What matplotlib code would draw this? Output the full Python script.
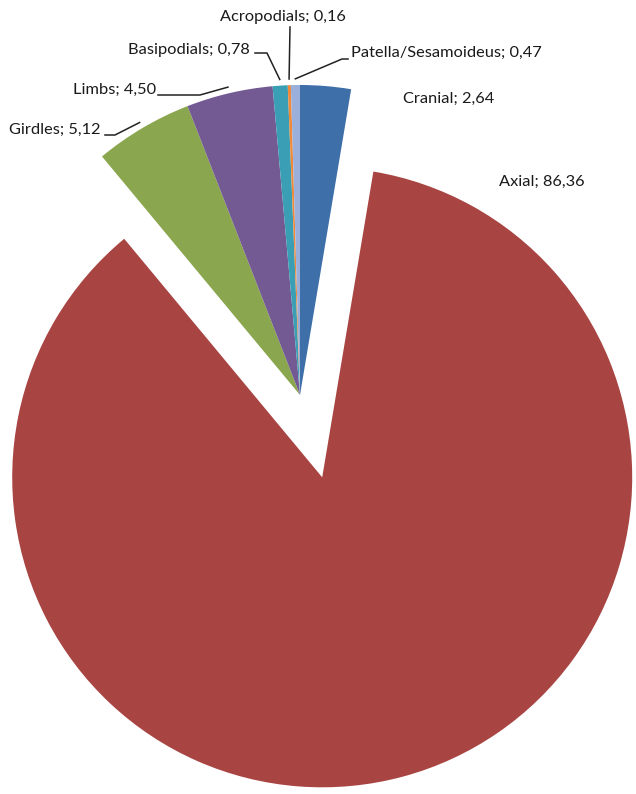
import numpy as np
import matplotlib.pyplot as plt

plt.rcParams['font.family'] = ['Lato', 'DejaVu Sans']

labels = ['Cranial', 'Axial', 'Girdles', 'Limbs', 'Basipodials', 'Acropodials', 'Patella/Sesamoideus']
values = [2.64, 86.36, 5.12, 4.50, 0.78, 0.16, 0.47]
colors = ['#3f6fa8', '#a84543', '#8aa64e', '#735a92', '#3a9fb5', '#f08a3a', '#9ab0da']
explode = [0, 0.275, 0, 0, 0, 0, 0]

W, H = 636, 794
CX, CY, R = 300, 395, 310


def px(x, y):
    # pixel position (from top-left) -> data coords of the pie axes
    return (x - CX) / R, (CY - y) / R


fig = plt.figure(figsize=(W / 100, H / 100), dpi=100)
ax = fig.add_axes([0, 0, 1, 1])
wedges, _ = ax.pie(values, colors=colors, explode=explode, startangle=90,
                   counterclock=False, radius=1, wedgeprops=dict(linewidth=0))
ax.set_xlim(-CX / R, (W - CX) / R)
ax.set_ylim(-(H - CY) / R, CY / R)
ax.set_aspect('auto')
ax.axis('off')


def edge_point(w, r=1.02):
    a = np.deg2rad((w.theta1 + w.theta2) / 2)
    cx, cy = w.center
    return cx + r * np.cos(a), cy + r * np.sin(a)


def fmt(v):
    return ('%.2f' % v).replace('.', ',')


# label text: (x, y, ha) in pixels, plus leader path start points
label_pos = {
    'Cranial': (403, 99, 'left', None),
    'Axial': (499, 182, 'left', None),
    'Girdles': (101, 130, 'right', [(105, 135), (115, 135)]),
    'Limbs': (156, 90, 'right', [(158, 95), (200, 95)]),
    'Basipodials': (250, 50, 'right', [(255, 53), (267, 53)]),
    'Acropodials': (283, 17, 'center', [(290, 27)]),
    'Patella/Sesamoideus': (351, 53, 'left', [(348, 59), (342, 59)]),
}

for w, lab, v in zip(wedges, labels, values):
    x, y, ha, path = label_pos[lab]
    tx, ty = px(x, y)
    ax.text(tx, ty, '%s; %s' % (lab, fmt(v)), ha=ha, va='center',
            fontsize=11.8, color='#1a1a1a')
    if path:
        pts = [px(*p) for p in path] + [edge_point(w)]
        ax.plot([p[0] for p in pts], [p[1] for p in pts], color='#222222', lw=1.1)

fig.savefig('out.png', dpi=100, facecolor='white')
